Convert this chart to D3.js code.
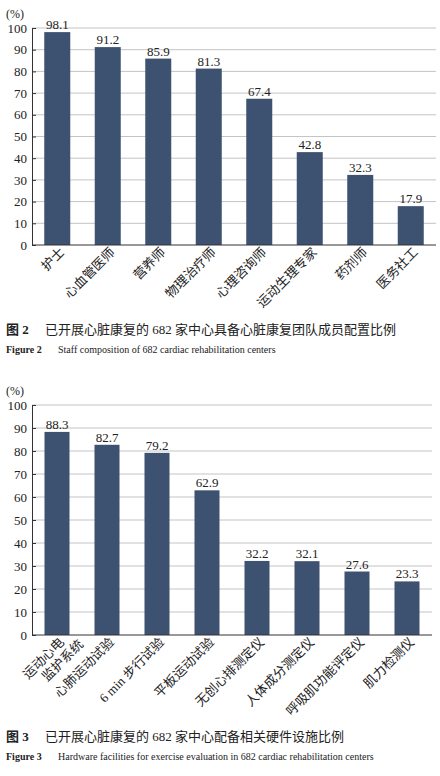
<!DOCTYPE html>
<html><head><meta charset="utf-8">
<script src="https://cdn.jsdelivr.net/npm/d3@7"></script>
<style>
body{margin:0;background:#fff}
text{font-family:"Liberation Serif","Noto Sans CJK SC",serif}
</style></head>
<body><svg id="c" width="440" height="776"></svg>
<script>
const staffCats = ['护士','心血管医师','营养师','物理治疗师','心理咨询师','运动生理专家','药剂师','医务社工'];
const staffVals = [98.1,91.2,85.9,81.3,67.4,42.8,32.3,17.9];
const hwCats = [['运动心电','监护系统'],['心肺运动试验'],['6 min 步行试验'],['平板运动试验'],['无创心排测定仪'],['人体成分测定仪'],['呼吸肌功能评定仪'],['肌力检测仪']];
const hwVals = [88.3,82.7,79.2,62.9,32.2,32.1,27.6,23.3];
const yTicks = [0,10,20,30,40,50,60,70,80,90,100];

const svg = d3.select('#c');
const barColor = '#3d5170';

const drawChart = (cats, vals, x0, x1, yTop, yBot, bw, captions, capY) => {
    const g = svg.append('g');
    const x = d3.scaleBand().domain(d3.range(cats.length)).range([x0, x1]);
    const y = d3.scaleLinear().domain([0,100]).range([yBot, yTop]);

    g.selectAll('line.grid').data(yTicks.slice(1)).enter().append('line')
        .attr('x1', x0).attr('x2', x1).attr('y1', d => y(d)).attr('y2', d => y(d))
        .attr('stroke', '#c4c4c4').attr('stroke-width', 1);

    const ax = g.append('g').attr('transform', `translate(${x0},0)`)
        .call(d3.axisLeft(y).tickValues(yTicks).tickSize(-4).tickPadding(5));
    ax.select('.domain').attr('stroke', '#333');
    ax.selectAll('.tick line').attr('stroke', '#333');
    ax.selectAll('text').style('font-size', '13px').attr('fill', '#222');

    g.append('text').attr('x', 6).attr('y', yTop - 10).text('(%)')
        .style('font-size', '12px').attr('fill', '#222');

    g.selectAll('rect').data(vals).enter().append('rect')
        .attr('x', (d, i) => x(i) + x.bandwidth()/2 - bw/2)
        .attr('width', bw)
        .attr('y', d => y(d)).attr('height', d => yBot - y(d))
        .attr('fill', barColor);

    g.selectAll('text.val').data(vals).enter().append('text')
        .attr('x', (d, i) => x(i) + x.bandwidth()/2)
        .attr('y', d => y(d) - 3)
        .attr('text-anchor', 'middle').style('font-size', '13px').attr('fill', '#222')
        .text(d => d.toFixed(1));

    g.append('line').attr('x1', x0).attr('x2', x1).attr('y1', yBot).attr('y2', yBot)
        .attr('stroke', '#333');

    cats.forEach((c, i) => {
        const lines = Array.isArray(c) ? c : [c];
        const cx = x(i) + x.bandwidth()/2 + 8;
        const t = g.append('text')
            .attr('transform', `translate(${cx},${yBot + 8}) rotate(-45)`)
            .attr('text-anchor', 'end').style('font-size', '13px').attr('fill', '#222');
        lines.forEach((l, k) => {
            t.append('tspan').attr('x', k ? 12 : 0).attr('dy', k ? 15 : 0).text(l);
        });
    });

    g.append('text').attr('x', 6).attr('y', capY).style('font-size', '13px').attr('fill', '#222')
        .call(t => {
            t.append('tspan').attr('font-weight', 'bold').text(captions[0]);
            t.append('tspan').attr('x', 45).text(captions[1]);
        });
    g.append('text').attr('x', 6).attr('y', capY + 19).style('font-size', '10px').attr('fill', '#222')
        .call(t => {
            t.append('tspan').attr('font-weight', 'bold').text(captions[2]);
            t.append('tspan').attr('x', 58).text(captions[3]);
        });
};

drawChart(staffCats, staffVals, 32, 436, 28, 245, 26,
    ['图 2', '已开展心脏康复的 682 家中心具备心脏康复团队成员配置比例', 'Figure 2', 'Staff composition of 682 cardiac rehabilitation centers'], 334);
drawChart(hwCats, hwVals, 32, 432, 405, 635, 25,
    ['图 3', '已开展心脏康复的 682 家中心配备相关硬件设施比例', 'Figure 3', 'Hardware facilities for exercise evaluation in 682 cardiac rehabilitation centers'], 741);
</script></body></html>
